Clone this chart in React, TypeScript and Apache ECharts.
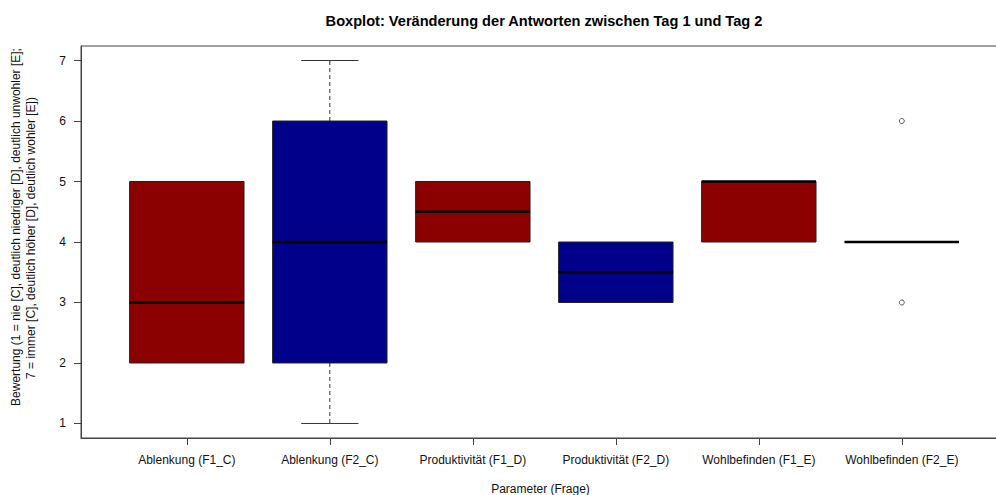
import React, { useEffect, useRef } from "react";
import * as echarts from "echarts";

const categories = [
  "Ablenkung (F1_C)",
  "Ablenkung (F2_C)",
  "Produktivität (F1_D)",
  "Produktivität (F2_D)",
  "Wohlbefinden (F1_E)",
  "Wohlbefinden (F2_E)",
];
const whiskerLow = [2, 1, 4, 3, 4, 4];
const quartile1 = [2, 2, 4, 3, 4, 4];
const medians = [3, 4, 4.5, 3.5, 5, 4];
const quartile3 = [5, 6, 5, 4, 5, 4];
const whiskerHigh = [5, 7, 5, 4, 5, 4];
const groupColorIndex = [0, 1, 0, 1, 0, 1];
const palette = ["#8B0000", "#00008B"];
const outliers = [
  [6, 6],
  [6, 3],
];
const yTicks = [1, 2, 3, 4, 5, 6, 7];
const xTicks = [1, 2, 3, 4, 5, 6];

const BOX_W = 0.8;
const FONT = "'Liberation Sans', Arial, sans-serif";

export default function App() {
  const ref = useRef<HTMLDivElement>(null);
  useEffect(() => {
    if (!ref.current) return;
    const chart = echarts.init(ref.current, null, { renderer: "svg" });
    const boxData = categories.map((_, i) => [
      i + 1,
      whiskerLow[i],
      quartile1[i],
      medians[i],
      quartile3[i],
      whiskerHigh[i],
      groupColorIndex[i],
    ]);
    const gridLeft = 81;
    const gridRight = -4;
    const pxPerUnit = 143;
    const xMin = 0.26;
    const xMax = xMin + (996 - gridLeft - gridRight) / pxPerUnit;

    chart.setOption({
      animation: false,
      backgroundColor: "#fff",
      textStyle: { fontFamily: FONT },
      title: {
        text: "Boxplot: Veränderung der Antworten zwischen Tag 1 und Tag 2",
        left: 539,
        top: 8,
        textAlign: "center",
        textStyle: { fontSize: 14.6, fontWeight: "bold", color: "#000", fontFamily: FONT },
      },
      grid: {
        left: gridLeft,
        right: gridRight,
        top: 46,
        bottom: 57,
        containLabel: false,
        outerBoundsMode: "none",
        show: true,
        borderColor: "#444",
        borderWidth: 1,
        backgroundColor: "transparent",
      },
      xAxis: {
        type: "value",
        min: xMin,
        max: xMax,
        splitLine: { show: false },
        axisLine: { show: true, lineStyle: { color: "#444", width: 1 } },
        axisTick: { show: true, length: 7, customValues: xTicks, lineStyle: { color: "#444" } },
        axisLabel: {
          customValues: xTicks,
          formatter: (v: number) => categories[Math.round(v) - 1] ?? "",
          margin: 16,
          fontSize: 12,
          color: "#111",
          fontFamily: FONT,
        },
        name: "Parameter (Frage)",
        nameLocation: "middle",
        nameGap: 45,
        nameTextStyle: { fontSize: 12, color: "#111", fontFamily: FONT },
      },
      yAxis: {
        type: "value",
        min: 0.76,
        max: 7.24,
        splitLine: { show: false },
        axisLine: { show: true, lineStyle: { color: "#444", width: 1 } },
        axisTick: { show: true, length: 7, customValues: yTicks, lineStyle: { color: "#444" } },
        axisLabel: {
          customValues: yTicks,
          margin: 15,
          fontSize: 12,
          color: "#111",
          fontFamily: FONT,
        },
      },
      graphic: [
        {
          type: "text",
          x: 16,
          y: 227,
          rotation: Math.PI / 2,
          style: {
            text: "Bewertung (1 = nie [C], deutlich niedriger [D], deutlich unwohler [E];",
            fontSize: 12,
            fontFamily: FONT,
            fill: "#111",
            textAlign: "center",
            textVerticalAlign: "middle",
          },
        },
        {
          type: "text",
          x: 31,
          y: 238,
          rotation: Math.PI / 2,
          style: {
            text: "7 = immer [C], deutlich höher [D], deutlich wohler [E])",
            fontSize: 12,
            fontFamily: FONT,
            fill: "#111",
            textAlign: "center",
            textVerticalAlign: "middle",
          },
        },
      ],
      series: [
        {
          type: "custom",
          data: boxData,
          encode: { x: 0, y: [1, 2, 3, 4, 5] },
          clip: false,
          renderItem: (params: any, api: any) => {
            const x = api.value(0);
            const lo = api.value(1);
            const q1 = api.value(2);
            const med = api.value(3);
            const q3 = api.value(4);
            const hi = api.value(5);
            const color = palette[api.value(6)];
            const halfW = api.size([BOX_W, 0])[0] / 2;
            const cx = api.coord([x, med])[0];
            const yLo = api.coord([x, lo])[1];
            const yQ1 = api.coord([x, q1])[1];
            const yMed = api.coord([x, med])[1];
            const yQ3 = api.coord([x, q3])[1];
            const yHi = api.coord([x, hi])[1];
            const children: any[] = [];
            const dash = { stroke: "#333", lineWidth: 1, lineDash: [4, 3] };
            const solid = { stroke: "#333", lineWidth: 1 };
            if (hi > q3) {
              children.push({ type: "line", shape: { x1: cx, y1: yQ3, x2: cx, y2: yHi }, style: dash });
              children.push({ type: "line", shape: { x1: cx - halfW / 2, y1: yHi, x2: cx + halfW / 2, y2: yHi }, style: solid });
            }
            if (lo < q1) {
              children.push({ type: "line", shape: { x1: cx, y1: yQ1, x2: cx, y2: yLo }, style: dash });
              children.push({ type: "line", shape: { x1: cx - halfW / 2, y1: yLo, x2: cx + halfW / 2, y2: yLo }, style: solid });
            }
            children.push({
              type: "rect",
              shape: { x: cx - halfW, y: yQ3, width: halfW * 2, height: yQ1 - yQ3 },
              style: { fill: color, stroke: "#222", lineWidth: 1 },
            });
            children.push({
              type: "line",
              shape: { x1: cx - halfW, y1: yMed, x2: cx + halfW, y2: yMed },
              style: { stroke: "#000", lineWidth: 2.6 },
            });
            return { type: "group", children };
          },
        },
        {
          type: "scatter",
          data: outliers,
          symbol: "circle",
          symbolSize: 5,
          itemStyle: { color: "#fff", borderColor: "#333", borderWidth: 1 },
        },
      ],
    });
    return () => chart.dispose();
  }, []);
  return (
    <div
      ref={ref}
      style={{ position: "fixed", left: 0, top: 0, width: 996, height: 495, overflow: "hidden" }}
    />
  );
}
